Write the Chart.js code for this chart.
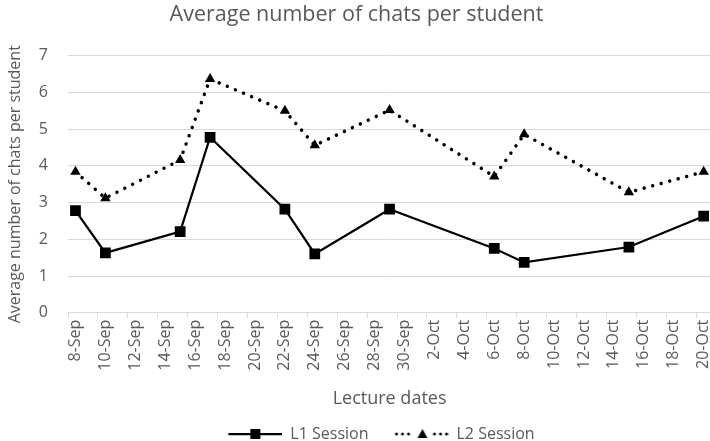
<!DOCTYPE html>
<html>
<head>
<meta charset="utf-8">
<script src="https://cdn.jsdelivr.net/npm/chart.js@4.4.0/dist/chart.umd.min.js"></script>
<style>
  html, body { margin: 0; padding: 0; background: #fff; overflow: hidden; }
  #wrap { width: 725px; height: 452px; }
</style>
</head>
<body>
<div id="wrap"><canvas id="myChart"></canvas></div>
<script>
// lecture dates and the values
const lectureDates = ['8-Sep', '10-Sep', '15-Sep', '17-Sep', '22-Sep', '24-Sep', '29-Sep', '6-Oct', '8-Oct', '15-Oct', '20-Oct'];
const l1Session = [2.78, 1.63, 2.21, 4.78, 2.82, 1.60, 2.82, 1.75, 1.37, 1.79, 2.63];
const l2Session = [3.84, 3.12, 4.16, 6.37, 5.50, 4.56, 5.52, 3.71, 4.86, 3.28, 3.84];

// x axis labels, one every second day
const tickLabels = ['8-Sep', '10-Sep', '12-Sep', '14-Sep', '16-Sep', '18-Sep', '20-Sep', '22-Sep', '24-Sep', '26-Sep', '28-Sep', '30-Sep',
  '2-Oct', '4-Oct', '6-Oct', '8-Oct', '10-Oct', '12-Oct', '14-Oct', '16-Oct', '18-Oct', '20-Oct'];
const yMin = 0, yMax = 7, yStep = 1;

// one category per calendar day so the spacing works like a date axis
const monthNames = ['Sep', 'Oct'];
const dayLabels = [];
for (let d = new Date(2020, 8, 8); d <= new Date(2020, 9, 20); d.setDate(d.getDate() + 1)) {
  dayLabels.push(d.getDate() + '-' + monthNames[d.getMonth() - 8]);
}

const grey = '#595959';
const gridGrey = '#d9d9d9';
const font = 'Open Sans';

// little line+marker pictures for the legend (left 22px kept empty as spacing)
function legendIcon(marker, dotted) {
  const c = document.createElement('canvas');
  c.width = 76; c.height = 14;
  const g = c.getContext('2d');
  g.strokeStyle = '#000';
  g.fillStyle = '#000';
  if (dotted) {
    g.lineWidth = 3;
    g.lineCap = 'round';
    g.setLineDash([0.01, 6]);
    g.beginPath(); g.moveTo(24, 7); g.lineTo(37, 7); g.stroke();
    g.beginPath(); g.moveTo(62, 7); g.lineTo(75, 7); g.stroke();
  } else {
    g.lineWidth = 2.25;
    g.beginPath(); g.moveTo(22, 7); g.lineTo(76, 7); g.stroke();
  }
  if (marker === 'rect') {
    g.fillRect(44, 2, 10, 10);
  } else {
    g.beginPath(); g.moveTo(50, 2); g.lineTo(55, 11); g.lineTo(45, 11); g.closePath(); g.fill();
  }
  return c;
}
const legendIcons = [legendIcon('rect', false), legendIcon('triangle', true)];

// move the legend a bit right, as in the original
const legendShift = {
  id: 'legendShift',
  afterLayout(chart) {
    chart.legend.left += 14;
    chart.legend.right += 14;
  }
};

const ctx = document.getElementById('myChart').getContext('2d');
const chatsChart = new Chart(ctx, {
  type: 'line',
  data: {
    labels: dayLabels,
    datasets: [
      {
        label: 'L1 Session',
        data: lectureDates.map((x, i) => ({x: x, y: l1Session[i]})),
        borderColor: '#000',
        backgroundColor: '#000',
        borderWidth: 2.25,
        tension: 0,
        pointStyle: 'rect',
        pointRadius: 7.6,
        pointBorderWidth: 0,
        pointBackgroundColor: '#000'
      },
      {
        label: 'L2 Session',
        data: lectureDates.map((x, i) => ({x: x, y: l2Session[i]})),
        borderColor: '#000',
        backgroundColor: '#000',
        borderWidth: 3.5,
        borderDash: [0.01, 8.8],
        borderCapStyle: 'round',
        tension: 0,
        pointStyle: 'triangle',
        pointRadius: 6,
        pointBorderWidth: 0,
        pointBackgroundColor: '#000'
      }
    ]
  },
  options: {
    responsive: true,
    maintainAspectRatio: false,
    animation: false,
    layout: { padding: { left: 0, right: 12, top: 0, bottom: 0 } },
    plugins: {
      title: {
        display: true,
        text: 'Average number of chats per student',
        color: grey,
        font: { family: font, size: 21.5, weight: 'normal' },
        padding: { top: 2, bottom: 28 }
      },
      legend: {
        position: 'bottom',
        labels: {
          color: grey,
          font: { family: font, size: 16 },
          usePointStyle: true,
          pointStyleWidth: 76,
          padding: 4,
          generateLabels: (chart) => Chart.defaults.plugins.legend.labels.generateLabels(chart)
            .map((item, i) => Object.assign(item, { pointStyle: legendIcons[i] }))
        }
      },
      tooltip: { enabled: false }
    },
    scales: {
      x: {
        type: 'category',
        offset: true,
        grid: {
          offset: true,
          drawOnChartArea: false,
          tickLength: 5,
          color: (c) => c.index % 2 === 0 ? gridGrey : 'rgba(0,0,0,0)'
        },
        border: { color: gridGrey },
        ticks: {
          autoSkip: false,
          maxRotation: 90,
          minRotation: 90,
          padding: 2,
          color: grey,
          font: { family: font, size: 16 },
          callback: (value, index) => tickLabels.includes(dayLabels[index]) ? dayLabels[index] : ''
        },
        title: {
          display: true,
          text: 'Lecture dates',
          color: grey,
          font: { family: font, size: 18 },
          padding: { top: 4, bottom: 12 }
        },
        afterFit: (scale) => { scale.height = 109.3; }
      },
      y: {
        min: yMin,
        max: yMax,
        grid: { color: gridGrey, drawTicks: false },
        border: { display: false },
        ticks: {
          stepSize: yStep,
          padding: 20,
          color: grey,
          font: { family: font, size: 16 }
        },
        title: {
          display: true,
          text: 'Average number of chats per student',
          color: grey,
          font: { family: font, size: 16 },
          padding: { top: 6, bottom: 4 }
        },
        afterFit: (scale) => { scale.width = 68; }
      }
    }
  },
  plugins: [legendShift]
});
</script>
</body>
</html>
